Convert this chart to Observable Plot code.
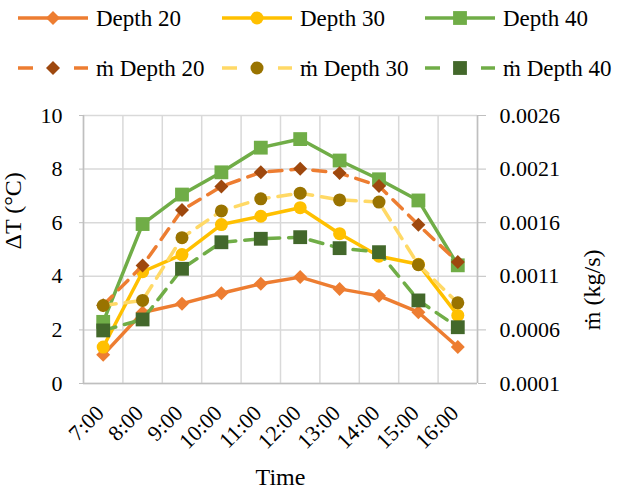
<!DOCTYPE html>
<html>
<head>
<meta charset="utf-8">
<script src="https://cdn.jsdelivr.net/npm/d3@7"></script>
<script src="https://cdn.jsdelivr.net/npm/@observablehq/plot@0.6"></script>
<style>
  html, body { margin: 0; padding: 0; background: #fff; }
  #wrap { width: 619px; height: 492px; position: relative; font-family: "Liberation Serif", "Times New Roman", serif; }
  svg { display: block; }
  #wrap svg text { font-family: "Liberation Serif", "Times New Roman", serif !important; }
</style>
</head>
<body>
<div id="wrap"></div>
<script>
// ---- data ----
const times = ["7:00","8:00","9:00","10:00","11:00","12:00","13:00","14:00","15:00","16:00"];
const dT20 = [1.07, 2.65, 2.98, 3.37, 3.72, 3.97, 3.53, 3.27, 2.66, 1.36];
const dT30 = [1.36, 4.17, 4.81, 5.93, 6.24, 6.56, 5.59, 4.75, 4.45, 2.54];
const dT40 = [2.30, 5.95, 7.05, 7.88, 8.80, 9.12, 8.32, 7.62, 6.83, 4.41];
const mDot20 = [0.00083, 0.00120, 0.001718, 0.001938, 0.00207, 0.0021025, 0.0020625, 0.0019425, 0.00158, 0.0012325];
const mDot30 = [0.0008275, 0.000875, 0.00146, 0.00171, 0.0018225, 0.001875, 0.0018125, 0.0017925, 0.0012075, 0.0008525];
const mDot40 = [0.000595, 0.0006975, 0.00117, 0.0014175, 0.00145, 0.001465, 0.0013625, 0.001325, 0.000875, 0.000625];
const leftTicks = [0, 2, 4, 6, 8, 10];
const seriesNames = ["Depth 20", "Depth 30", "Depth 40", "ṁ Depth 20", "ṁ Depth 30", "ṁ Depth 40"];

// secondary axis mapping: 0 -> 0.0001, 10 -> 0.0026
const mMin = 0.0001, mPerUnit = 0.00025;
const toLeft = m => (m - mMin) / mPerUnit;

// ---- styles ----
const FONT = "Liberation Serif";
const styles = [
  {line: "#ED7D31", marker: "#ED7D31", symbol: "diamond2", r: 6.3, dash: null},
  {line: "#FFC000", marker: "#FFC000", symbol: "circle", r: 6.5, dash: null},
  {line: "#70AD47", marker: "#70AD47", symbol: "square", r: 7.8, dash: null},
  {line: "#ED7D31", marker: "#9E480E", symbol: "diamond2", r: 6.3, dash: "13,9"},
  {line: "#FFD966", marker: "#997300", symbol: "circle", r: 6.5, dash: "13,9"},
  {line: "#70AD47", marker: "#43682B", symbol: "square", r: 7.8, dash: "13,9"}
];
const seriesValues = [dT20, dT30, dT40, mDot20.map(toLeft), mDot30.map(toLeft), mDot40.map(toLeft)];

// ---- legend ----
const legend = d3.create("svg").attr("width", 619).attr("height", 90);
const entryX = [18, 222, 425];
const rowY = [18, 68];
seriesNames.forEach((name, k) => {
  const s = styles[k];
  const x0 = entryX[k % 3], y0 = rowY[Math.floor(k / 3)];
  const g = legend.append("g");
  if (s.dash) {
    g.append("line").attr("x1", x0).attr("x2", x0 + 15).attr("y1", y0).attr("y2", y0)
      .attr("stroke", s.line).attr("stroke-width", 3.5);
    g.append("line").attr("x1", x0 + 56).attr("x2", x0 + 70).attr("y1", y0).attr("y2", y0)
      .attr("stroke", s.line).attr("stroke-width", 3.5);
  } else {
    g.append("line").attr("x1", x0).attr("x2", x0 + 70).attr("y1", y0).attr("y2", y0)
      .attr("stroke", s.line).attr("stroke-width", 3.5);
  }
  const sym = s.symbol === "circle" ? d3.symbolCircle : s.symbol === "square" ? d3.symbolSquare : d3.symbolDiamond2;
  g.append("path").attr("d", d3.symbol(sym, Math.PI * s.r * s.r)())
    .attr("transform", `translate(${x0 + 35},${y0})`).attr("fill", s.marker);
  g.append("text").attr("x", x0 + 78).attr("y", y0).attr("dy", "0.35em")
    .attr("font-family", FONT).attr("font-size", 23).attr("fill", "#000").text(name);
});
document.getElementById("wrap").append(legend.node());

// ---- chart ----
const idx = times.map((t, i) => i);
const boundaries = d3.range(-0.5, times.length, 1);
const marks = [
  Plot.gridX(boundaries, {stroke: "#d9d9d9", strokeOpacity: 1, strokeWidth: 1.5}),
  Plot.gridY(leftTicks, {stroke: "#d9d9d9", strokeOpacity: 1, strokeWidth: 1.5}),
  Plot.ruleX([-0.5, 9.5], {stroke: "#bfbfbf", strokeWidth: 1.5}),
  Plot.ruleY([0], {stroke: "#bfbfbf", strokeWidth: 1.5}),
  Plot.axisY(leftTicks, {anchor: "left", tickSize: 4, tickPadding: 17, stroke: "#bfbfbf", fontSize: 22, fontFamily: FONT, label: null}),
  Plot.axisY(leftTicks, {anchor: "right", tickSize: 8, tickPadding: 14, stroke: "#bfbfbf", fontSize: 22, fontFamily: FONT, label: null,
    tickFormat: d => (mMin + d * mPerUnit).toFixed(4)}),
  Plot.text(times, {x: (d, i) => i, frameAnchor: "bottom", rotate: -45, textAnchor: "end", lineAnchor: "middle",
    dx: -3, dy: 26, fontSize: 22, fontFamily: FONT, fill: "#000"}),
  Plot.text(["Time"], {frameAnchor: "bottom", dy: 94, lineAnchor: "middle", fontSize: 24, fontFamily: FONT, fill: "#000"}),
  Plot.text(["ΔT (°C)"], {frameAnchor: "left", dx: -70, rotate: -90, lineAnchor: "middle", fontSize: 24, fontFamily: FONT, fill: "#000"}),
  Plot.text(["ṁ (kg/s)"], {frameAnchor: "right", dx: 115, rotate: -90, lineAnchor: "middle", fontSize: 24, fontFamily: FONT, fill: "#000"})
];
seriesValues.forEach((vals, k) => {
  const s = styles[k];
  marks.push(Plot.line(idx, {x: i => i, y: i => vals[i], stroke: s.line, strokeWidth: 3.5,
    strokeDasharray: s.dash || undefined, strokeLinejoin: "round"}));
  marks.push(Plot.dot(idx, {x: i => i, y: i => vals[i], symbol: s.symbol, r: s.r, fill: s.marker, stroke: "none"}));
});

const chart = Plot.plot({
  width: 619,
  height: 402,
  marginLeft: 83,
  marginRight: 142,
  marginTop: 25,
  marginBottom: 109,
  style: {fontFamily: FONT, fontSize: "22px", color: "#000", background: "#fff"},
  x: {type: "linear", domain: [-0.5, 9.5], axis: null},
  y: {domain: [0, 10], axis: null},
  marks
});
document.getElementById("wrap").append(chart);
</script>
</body>
</html>
